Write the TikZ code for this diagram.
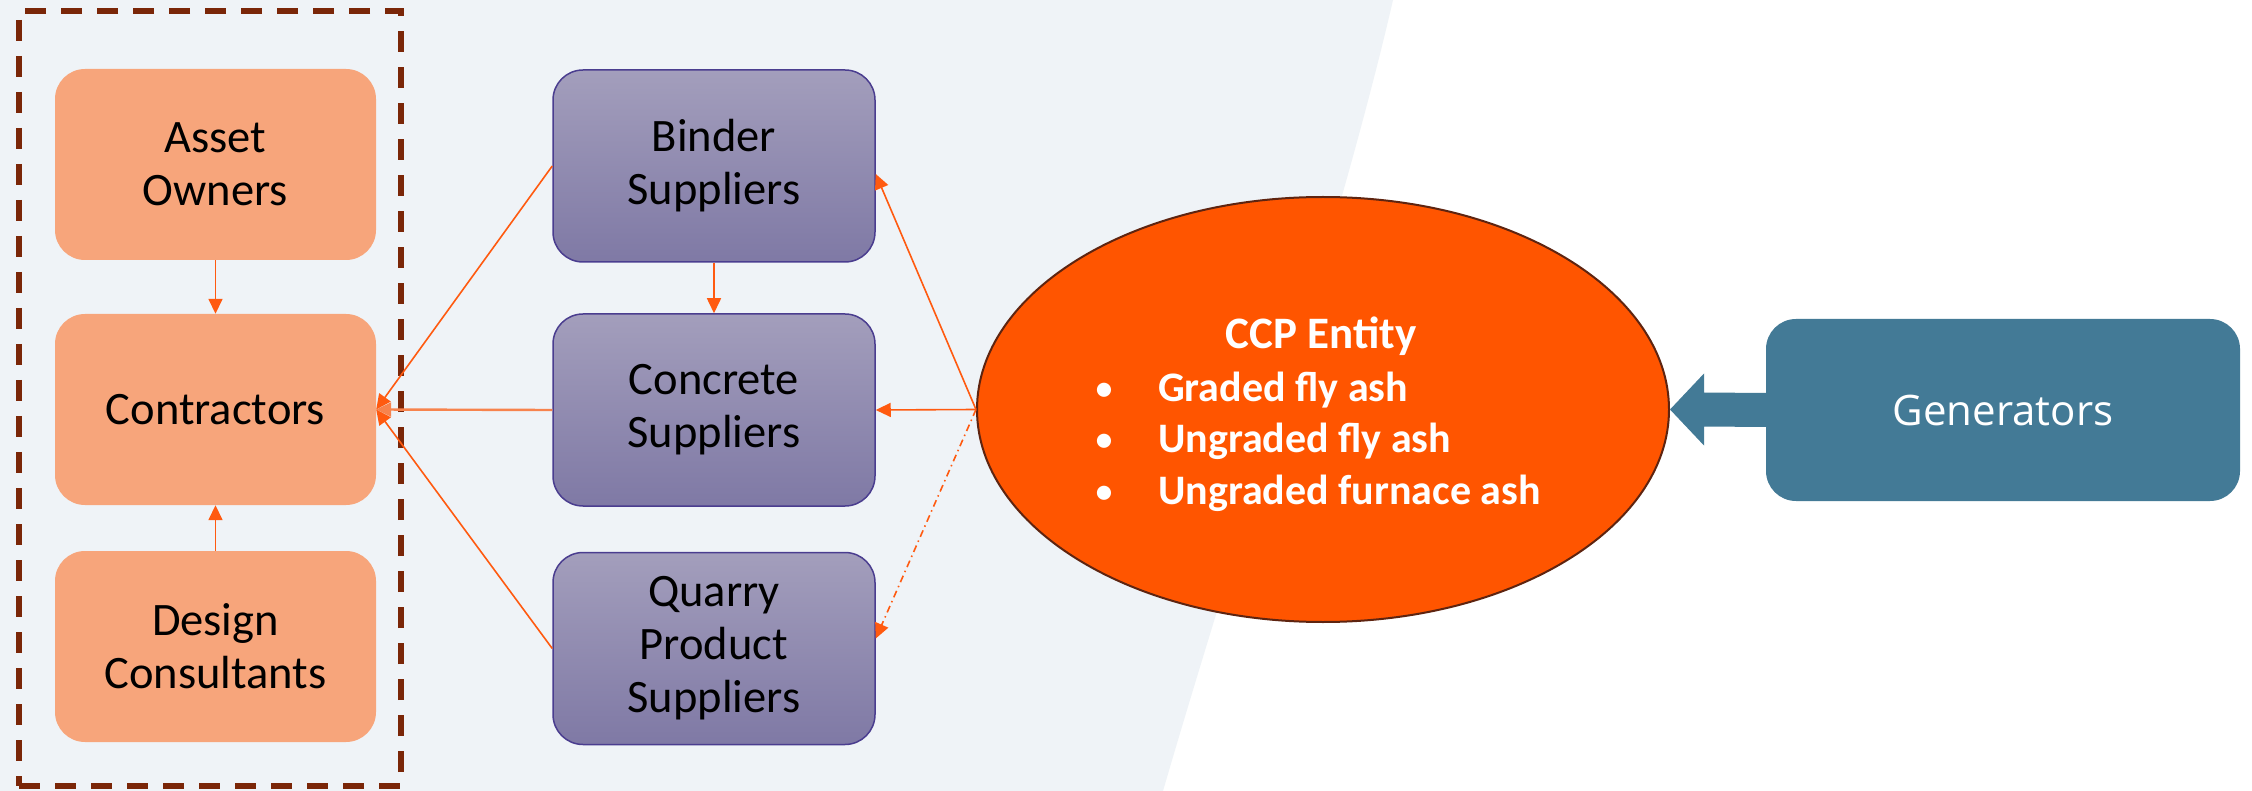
\documentclass[tikz,border=0pt]{standalone}
\usepackage{fontspec}
\setmainfont{Carlito}
\newfontfamily\genfont{Open Sans}
\usetikzlibrary{arrows.meta,shapes.geometric}
\definecolor{bgc}{HTML}{EFF3F7}
\definecolor{salmon}{HTML}{F7A57B}
\definecolor{ptop}{HTML}{A39EBC}
\definecolor{pbot}{HTML}{7F79A5}
\definecolor{pborder}{HTML}{4A3D8F}
\definecolor{ccpc}{HTML}{FF5500}
\definecolor{ccpb}{HTML}{5E2410}
\definecolor{genc}{HTML}{437A96}
\definecolor{dashc}{HTML}{7A2608}
\definecolor{arr}{HTML}{FF5A10}
\definecolor{arrl}{HTML}{F7834D}
\tikzset{
  obox/.style={rectangle, rounded corners=30pt, fill=salmon, minimum width=321pt,
    minimum height=191pt, align=center, inner sep=0pt,
    font=\fontsize{46.5}{53}\selectfont},
  pbox/.style={rectangle, rounded corners=30pt, top color=ptop, bottom color=pbot,
    draw=pborder, line width=1.5pt, minimum width=322pt, minimum height=192pt,
    align=center, inner sep=0pt, font=\fontsize{46.5}{53}\selectfont},
  conn/.style={draw=arr, line width=1.6pt, -{Triangle[length=15pt,width=14pt]}},
  bul/.style={anchor=base west, inner sep=0pt, text=white,
    font=\fontsize{42}{50}\selectfont\bfseries},
  dot/.style={anchor=base, inner sep=0pt, text=white,
    font=\fontsize{40}{50}\selectfont}
}
\begin{document}
\begin{tikzpicture}[x=1pt,y=-1pt]
\useasboundingbox (0,0) rectangle (2252,791);
\fill[white] (0,0) rectangle (2252,791);
\fill[bgc] (0,0) -- (1393,0) .. controls (1340,230) and (1230,560) .. (1163,791) -- (0,791) -- cycle;

% group frame
\node[draw=dashc, line width=5.5pt, dash pattern=on 21pt off 15pt,
  minimum width=382pt, minimum height=775pt, inner sep=0pt] (grp) at (210,398.5) {};

% left column
\node[obox] (ao) at (215.5,164.5) {Asset\\Owners};
\node[obox] (ct) at (215.5,409.5) {Contractors};
\node[obox] (dc) at (215.5,646.5) {Design\\Consultants};

% suppliers
\node[pbox] (bs) at (714,166) {Binder\\Suppliers};
\node[pbox] (cs) at (714,410) {Concrete\\Suppliers};
\node[pbox] (qs) at (714,648.5) {\raisebox{-5pt}{\parbox{300pt}{\centering Quarry\\Product\\Suppliers}}};

% CCP entity
\node[ellipse, fill=ccpc, draw=ccpb, line width=2pt, minimum width=692pt,
  minimum height=425pt, inner sep=0pt] (ccp) at (1323,409.5) {};
\node[anchor=base, inner sep=0pt, text=white,
  font=\fontsize{45}{50}\selectfont\bfseries] (ttl) at (1321,349) {CCP Entity};
\node[dot] (d1) at (1104,402) {•};
\node[dot] (d2) at (1104,453) {•};
\node[dot] (d3) at (1104,504) {•};
\node[bul] (b1) at (1158,402) {Graded fly ash};
\node[bul] (b2) at (1158,453) {Ungraded fly ash};
\node[bul] (b3) at (1158,504) {Ungraded furnace ash};

% generators
\node[rectangle, rounded corners=30pt, fill=genc, minimum width=474pt,
  minimum height=182pt, inner sep=0pt, text=white,
  font=\genfont\fontsize{42}{50}\selectfont] (gen) at (2003,410) {Generators};
\fill[genc] (ccp.east) -- ([xshift=34pt,yshift=36pt]ccp.east)
  -- ([xshift=34pt,yshift=17pt]ccp.east) -- ([yshift=17pt]gen.west)
  -- ([yshift=-17pt]gen.west) -- ([xshift=34pt,yshift=-17pt]ccp.east)
  -- ([xshift=34pt,yshift=-36pt]ccp.east) -- cycle;

% connectors
\draw[conn] (ao.south) -- (ct.north);
\draw[conn] (dc.north) -- (ct.south);
\draw[conn] (bs.south) -- (cs.north);
\draw[conn] (bs.west) -- (ct.east);
\draw[conn, draw=arrl, line width=2.4pt] (cs.west) -- (ct.east);
\draw[conn] (qs.west) -- (ct.east);
\draw[conn] (ccp.west) -- ([yshift=-8pt]bs.east);
\draw[conn] (ccp.west) -- (cs.east);
\draw[conn, dash pattern=on 7pt off 4pt on 1.5pt off 4pt] (ccp.west) -- ([yshift=10pt]qs.east);
\end{tikzpicture}
\end{document}
